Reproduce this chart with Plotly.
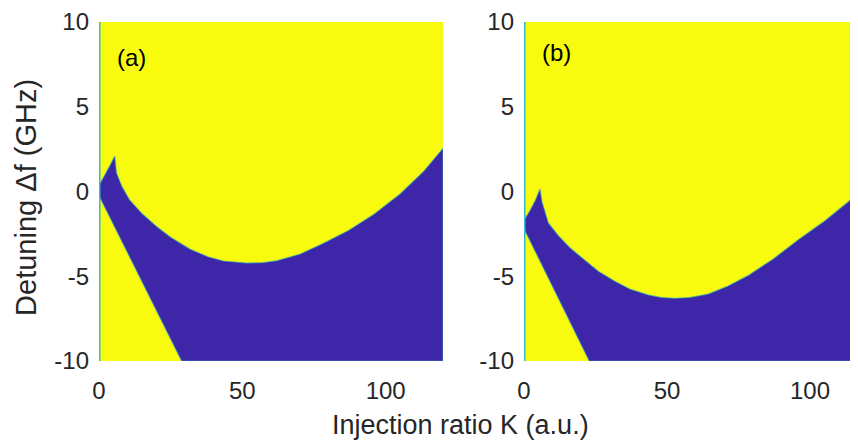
import plotly.graph_objects as go

# ---- data ----
K_RANGE_A = [0, 120]
K_RANGE_B = [0, 116.8]
DF_RANGE = [-10, 10]
x_ticks = [0, 50, 100]
x_tick_text = ["0", "50", "100"]
y_ticks = [-10, -5, 0, 5, 10]
y_tick_text = ["-10", "-5", "0", "5", "10"]

# panel (a): upper boundary of the blue region
K_up_a = [0, 2, 4, 5.5, 6.1, 8, 10.7, 15, 20, 25, 31.8, 38, 43.4, 51.6, 57, 62, 70,
          78.3, 87, 95.8, 105, 113.3, 120]
df_up_a = [0.35, 0.95, 1.6, 2.1, 1.1, 0.3, -0.5, -1.3, -2.05, -2.7, -3.4, -3.85, -4.1,
           -4.22, -4.2, -4.08, -3.7, -3.05, -2.3, -1.35, -0.15, 1.2, 2.55]
# panel (a): lower boundary line
K_low_a = [0, 28.8]
df_low_a = [-0.25, -10]

# panel (b): upper boundary of the blue region
K_up_b = [0, 2, 4, 5.6, 6.3, 8.5, 12, 16, 20.2, 26, 31.8, 37, 43.5, 48, 52.8, 58, 64.4,
          71, 78.4, 87, 95.9, 105, 113.4, 116.8, 120]
df_up_b = [-1.7, -1.15, -0.5, 0.15, -0.6, -1.85, -2.6, -3.3, -3.9, -4.7, -5.3, -5.75,
           -6.1, -6.25, -6.3, -6.25, -6.05, -5.6, -4.95, -4.0, -2.85, -1.75, -0.6, -0.1, 0.35]
# panel (b): lower boundary line
K_low_b = [0, 22.8]
df_low_b = [-2.2, -10]

YELLOW = "#F9FB0E"
BLUE = "#3E26A8"
CYAN = "#35B9CC"
EDGE = "rgba(40,175,200,0.55)"
FONT = "Liberation Sans, Arial, sans-serif"
TXT = "#262626"


def region(K_up, df_up, K_low, df_low, kmax):
    xs = list(K_up) + [kmax, K_low[-1]] + list(reversed(K_low)) + [K_up[0]]
    ys = list(df_up) + [DF_RANGE[0], df_low[-1]] + list(reversed(df_low)) + [df_up[0]]
    return xs, ys


fig = go.Figure()

for (K_up, df_up, K_low, df_low, kmax, xa, ya) in [
    (K_up_a, df_up_a, K_low_a, df_low_a, K_RANGE_A[1], "x", "y"),
    (K_up_b, df_up_b, K_low_b, df_low_b, max(K_up_b), "x2", "y2"),
]:
    xs, ys = region(K_up, df_up, K_low, df_low, kmax)
    fig.add_trace(go.Scatter(x=xs, y=ys, mode="lines", fill="toself", fillcolor=BLUE,
                             line=dict(color=EDGE, width=1.2), xaxis=xa, yaxis=ya,
                             hoverinfo="skip", showlegend=False))
    fig.add_trace(go.Scatter(x=[0, 0], y=DF_RANGE, mode="lines",
                             line=dict(color=CYAN, width=3), xaxis=xa, yaxis=ya,
                             hoverinfo="skip", showlegend=False))

# the page body adds an 8px offset; the figure is sized so it fills the window
W, H = 850, 437
ML, MR, MT, MB = 91, 0, 8, 84
pw = W - ML - MR
ph = H - MT - MB

ax_common = dict(showgrid=False, zeroline=False, showline=False, ticks="",
                 tickfont=dict(family=FONT, size=24, color=TXT), fixedrange=True,
                 ticklabeloverflow="allow")

fig.update_layout(
    width=W, height=H,
    margin=dict(l=ML, r=MR, t=MT, b=MB, pad=0),
    paper_bgcolor="white", plot_bgcolor=YELLOW,
    xaxis=dict(domain=[0, 344 / pw], range=K_RANGE_A, tickvals=x_ticks,
               ticktext=x_tick_text, ticklabelstandoff=13, anchor="y", **ax_common),
    xaxis2=dict(domain=[425 / pw, 1], range=K_RANGE_B, tickvals=x_ticks,
                ticktext=x_tick_text, ticklabelstandoff=13, anchor="y2", **ax_common),
    yaxis=dict(domain=[0, 1], range=DF_RANGE, tickvals=y_ticks, ticktext=y_tick_text,
               anchor="x", ticklabelstandoff=9, **ax_common),
    yaxis2=dict(domain=[0, 1], range=DF_RANGE, tickvals=y_ticks, ticktext=y_tick_text,
                anchor="x2", ticklabelstandoff=9, **ax_common),
    showlegend=False,
)

fig.add_annotation(text="Injection ratio K (a.u.)", xref="paper", yref="paper",
                   x=(452 - ML) / pw, y=(H - MB - 418.5) / ph, xanchor="center",
                   yanchor="middle", showarrow=False,
                   font=dict(family=FONT, size=27, color=TXT))
fig.add_annotation(text="Detuning \u0394f (GHz)", xref="paper", yref="paper",
                   x=(18 - ML) / pw, y=(H - MB - 187) / ph, xanchor="center",
                   yanchor="middle", textangle=-90, showarrow=False,
                   font=dict(family=FONT, size=29, color=TXT))
fig.add_annotation(text="(a)", xref="x", yref="y", x=11.4, y=7.9, xanchor="center",
                   yanchor="middle", showarrow=False,
                   font=dict(family=FONT, size=24, color="black"))
fig.add_annotation(text="(b)", xref="x2", yref="y2", x=11.2, y=8.2, xanchor="center",
                   yanchor="middle", showarrow=False,
                   font=dict(family=FONT, size=24, color="black"))

fig.write_html("out.html")
